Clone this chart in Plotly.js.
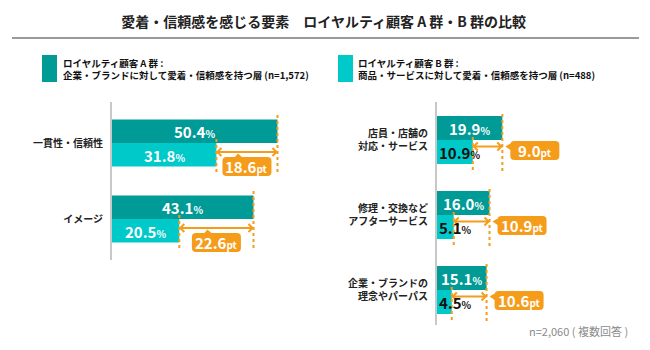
<!DOCTYPE html>
<html><head><meta charset="utf-8">
<script src="https://cdn.plot.ly/plotly-3.0.1.min.js"></script>
<style>html,body{margin:0;padding:0;background:#fff}#chart{width:650px;height:350px}</style>
</head><body><div id="chart"></div>
<script>
// ---- data ----
const titleText = '愛着・信頼感を感じる要素　ロイヤルティ顧客 A 群・B 群の比較';
const seriesA = 'ロイヤルティ顧客 A 群 :<br>企業・ブランドに対して愛着・信頼感を持つ層 (n=1,572)';
const seriesB = 'ロイヤルティ顧客 B 群 :<br>商品・サービスに対して愛着・信頼感を持つ層 (n=488)';
const leftCategories = ['一貫性・信頼性', 'イメージ'];
const leftA = [50.4, 43.1];
const leftB = [31.8, 20.5];
const leftDiff = ['18.6', '22.6'];
const rightCategories = ['店員・店舗の<br>対応・サービス', '修理・交換など<br>アフターサービス', '企業・ブランドの<br>理念やパーパス'];
const rightA = [19.9, 16.0, 15.1];
const rightB = [10.9, 5.1, 4.5];
const rightDiff = ['9.0', '10.9', '10.6'];
const noteText = 'n=2,060 ( 複数回答 )';

// ---- style ----
const W = 650, H = 350;
const colA = '#009b96', colB = '#00c9c9', orange = '#f59c1a';
const FONT = '"Noto Sans CJK JP", "Noto Sans", sans-serif';
const wL = 0.31, wR = 0.32;
const px2x = 60 / 197; // data units per px (both panels)

const idx = arr => arr.map((_, i) => i);

const traces = [
  {type:'bar', orientation:'h', x:leftA, y:idx(leftA), width:wL, offset:-wL, marker:{color:colA}, xaxis:'x', yaxis:'y', hoverinfo:'skip', name:'A'},
  {type:'bar', orientation:'h', x:leftB, y:idx(leftB), width:wL, offset:0, marker:{color:colB}, xaxis:'x', yaxis:'y', hoverinfo:'skip', name:'B'},
  {type:'bar', orientation:'h', x:rightA, y:idx(rightA), width:wR, offset:-wR, marker:{color:colA}, xaxis:'x2', yaxis:'y2', hoverinfo:'skip', name:'A'},
  {type:'bar', orientation:'h', x:rightB, y:idx(rightB), width:wR, offset:0, marker:{color:colB}, xaxis:'x2', yaxis:'y2', hoverinfo:'skip', name:'B'}
];

const shapes = [];
const annotations = [];

function valText(v) {
  return v.toFixed(1) + '<span style="font-size:10px">%</span>';
}
function ptText(t) {
  return t + '<span style="font-size:10px">pt</span>';
}
function dashLine(xr, yr, xv, yi, top, bot) {
  shapes.push({type:'line', xref:xr, yref:yr, x0:xv, x1:xv, ysizemode:'pixel', yanchor:yi, y0:top, y1:bot,
    line:{color:orange, width:2, dash:'3px,3px'}});
}
function doubleArrow(xr, yr, b, a, yi, yoff) {
  shapes.push({type:'line', xref:xr, yref:yr, x0:b, x1:a, ysizemode:'pixel', yanchor:yi, y0:yoff, y1:yoff,
    line:{color:orange, width:2}});
  shapes.push({type:'path', xref:xr, yref:yr, xsizemode:'pixel', ysizemode:'pixel', xanchor:b, yanchor:yi,
    path:`M 5,${yoff+4} L 1,${yoff} L 5,${yoff-4}`, line:{color:orange, width:2}});
  shapes.push({type:'path', xref:xr, yref:yr, xsizemode:'pixel', ysizemode:'pixel', xanchor:a, yanchor:yi,
    path:`M -5,${yoff+4} L -1,${yoff} L -5,${yoff-4}`, line:{color:orange, width:2}});
}
function boxPathTop(x0, x1, top, bot, r, t0, tip, t1) {
  return `M ${x0+r},${top} L ${t0},${top} L ${tip[0]},${tip[1]} L ${t1},${top} L ${x1-r},${top} Q ${x1},${top} ${x1},${top-r} ` +
    `L ${x1},${bot+r} Q ${x1},${bot} ${x1-r},${bot} L ${x0+r},${bot} Q ${x0},${bot} ${x0},${bot+r} ` +
    `L ${x0},${top-r} Q ${x0},${top} ${x0+r},${top} Z`;
}
function boxPathLeft(x0, x1, top, bot, r, ta, tip, tb) {
  return `M ${x0+r},${top} L ${x1-r},${top} Q ${x1},${top} ${x1},${top-r} ` +
    `L ${x1},${bot+r} Q ${x1},${bot} ${x1-r},${bot} L ${x0+r},${bot} Q ${x0},${bot} ${x0},${bot+r} ` +
    `L ${x0},${tb} L ${tip[0]},${tip[1]} L ${x0},${ta} L ${x0},${top-r} Q ${x0},${top} ${x0+r},${top} Z`;
}

function valueLabels(xr, yr, A, B) {
  A.forEach((a, i) => {
    annotations.push({xref:xr, yref:yr, x:a/2, y:i, yshift:12, text:valText(a), showarrow:false,
      xanchor:'center', yanchor:'middle', font:{family:FONT, size:15, color:'#fff', weight:'bold'}});
  });
  B.forEach((b, i) => {
    const inside = b / px2x > 55;
    annotations.push({xref:xr, yref:yr, x: inside ? b/2 : 0, y:i, yshift:-12, xshift: inside ? 0 : 0,
      text:valText(b), showarrow:false, xanchor: inside ? 'center' : 'left', yanchor:'middle',
      font:{family:FONT, size:15, color: inside ? '#fff' : '#111', weight:'bold'}});
  });
}

// left panel
valueLabels('x', 'y', leftA, leftB);
leftA.forEach((a, i) => {
  const b = leftB[i];
  dashLine('x', 'y', a, i, 28, -30);
  dashLine('x', 'y', b, i, 4, -30);
  doubleArrow('x', 'y', b, a, i, -9);
  const mid = (a + b) / 2;
  shapes.push({type:'path', xref:'x', yref:'y', xsizemode:'pixel', ysizemode:'pixel', xanchor:mid, yanchor:i,
    path: boxPathTop(-24.5, 24.5, -14, -33, 4, -12, [-9, -10.5], -5), fillcolor:orange, line:{width:0}});
  annotations.push({xref:'x', yref:'y', x:mid, y:i, yshift:-23.5, text:ptText(leftDiff[i]), showarrow:false,
    xanchor:'center', yanchor:'middle', font:{family:FONT, size:15, color:'#fff', weight:'bold'}});
});

// right panel
valueLabels('x2', 'y2', rightA, rightB);
rightA.forEach((a, i) => {
  const b = rightB[i];
  dashLine('x2', 'y2', a, i, 26, -31);
  dashLine('x2', 'y2', b, i, 3, -31);
  doubleArrow('x2', 'y2', b, a, i, -6.5);
  shapes.push({type:'path', xref:'x2', yref:'y2', xsizemode:'pixel', ysizemode:'pixel', xanchor:a, yanchor:i,
    path: boxPathLeft(8, 57, -1, -20, 4, -3.5, [3, -6.5], -10), fillcolor:orange, line:{width:0}});
  annotations.push({xref:'x2', yref:'y2', x:a, y:i, xshift:32.5, yshift:-10.5, text:ptText(rightDiff[i]), showarrow:false,
    xanchor:'center', yanchor:'middle', font:{family:FONT, size:15, color:'#fff', weight:'bold'}});
});

// legend-like header blocks
shapes.push({type:'rect', xref:'paper', yref:'paper', x0:42/W, x1:57/W, y0:1-55/H, y1:1-82/H, fillcolor:colA, line:{width:0}});
shapes.push({type:'rect', xref:'paper', yref:'paper', x0:338/W, x1:353/W, y0:1-55/H, y1:1-82/H, fillcolor:colB, line:{width:0}});
annotations.push({xref:'paper', yref:'paper', x:61/W, y:1-69/H, text:seriesA, showarrow:false, xanchor:'left', yanchor:'middle', align:'left',
  font:{family:FONT, size:9.5, color:'#111', weight:'bold'}});
annotations.push({xref:'paper', yref:'paper', x:356/W, y:1-69/H, text:seriesB, showarrow:false, xanchor:'left', yanchor:'middle', align:'left',
  font:{family:FONT, size:9.5, color:'#111', weight:'bold'}});
// title rule
shapes.push({type:'line', xref:'paper', yref:'paper', x0:12/W, x1:639/W, y0:1-38/H, y1:1-38/H, line:{color:'#9a9a9a', width:2}});
// note
annotations.push({xref:'paper', yref:'paper', x:630/W, y:1-331/H, text:noteText, showarrow:false, xanchor:'right', yanchor:'middle',
  font:{family:FONT, size:11, color:'#8a8a8a'}});

const yCommon = {showline:true, linecolor:'#c8c8c8', linewidth:2, showgrid:false, zeroline:false, ticks:'',
  ticklabelstandoff:5, tickfont:{family:FONT, size:10, color:'#222', weight:'bold'}, fixedrange:true};

const layout = {
  width:W, height:H, margin:{l:0, r:0, t:0, b:0}, paper_bgcolor:'#fff', plot_bgcolor:'rgba(0,0,0,0)',
  showlegend:false, barmode:'overlay',
  font:{family:FONT},
  title:{text:titleText, x:0.498, xanchor:'center', y:1-22/H, yanchor:'middle', yref:'container',
    font:{family:FONT, size:14, color:'#222', weight:'bold'}},
  xaxis:{domain:[112/W, 309/W], range:[0, 60], visible:false, anchor:'y', fixedrange:true},
  yaxis:Object.assign({}, yCommon, {domain:[(H-260)/H, (H-102)/H], range:[(260-143)/76, (102-143)/76], anchor:'x',
    tickvals:idx(leftCategories), ticktext:leftCategories}),
  xaxis2:{domain:[437/W, 634/W], range:[0, 60], visible:false, anchor:'y2', fixedrange:true},
  yaxis2:Object.assign({}, yCommon, {domain:[(H-325)/H, (H-102)/H], range:[(325-140)/75, (102-140)/75], anchor:'x2',
    tickvals:idx(rightCategories), ticktext:rightCategories}),
  shapes, annotations
};

Plotly.newPlot('chart', traces, layout, {displayModeBar:false, staticPlot:true});
</script>
</body></html>
